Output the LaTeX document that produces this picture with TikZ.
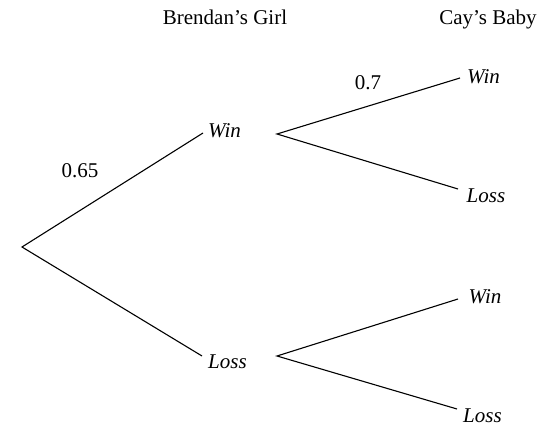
\documentclass[tikz,border=0pt]{standalone}
\usepackage{fontspec}
\setmainfont{Liberation Serif}
\begin{document}
\begin{tikzpicture}[x=1pt,y=-1pt,
  branch/.style={draw=black,line width=1.1pt,line join=miter},
  lbl/.style={anchor=base,inner sep=0pt,font=\fontsize{21}{24}\selectfont},
  olbl/.style={lbl,font=\fontsize{21}{24}\selectfont\itshape}]
\useasboundingbox (0,0) rectangle (552,427);
% vertices and line ends
\coordinate (root) at (22,247);
\coordinate (v1) at (277,134);
\coordinate (v2) at (277,356);
\coordinate (e1) at (203,133);
\coordinate (e2) at (202,356);
\coordinate (e11) at (460,78);
\coordinate (e12) at (458,189);
\coordinate (e21) at (458,299);
\coordinate (e22) at (457,409);
% headings
\node[lbl] (hA) at (225,25) {Brendan's Girl};
\node[lbl] (hB) at (488,25) {Cay's Baby};
% outcome labels
\node[olbl] (w1) at (224.5,138) {Win};
\node[olbl] (l1) at (227.5,369) {Loss};
\node[olbl] (w11) at (483.5,84) {Win};
\node[olbl] (l12) at (486,203) {Loss};
\node[olbl] (w21) at (485,304) {Win};
\node[olbl] (l22) at (482.5,423) {Loss};
% probabilities
\node[lbl] (p1) at (80,178) {0.65};
\node[lbl] (p2) at (368,90) {0.7};
% branches
\draw[branch] (e1) -- (root) -- (e2);
\draw[branch] (e11) -- (v1) -- (e12);
\draw[branch] (e21) -- (v2) -- (e22);
\end{tikzpicture}
\end{document}
